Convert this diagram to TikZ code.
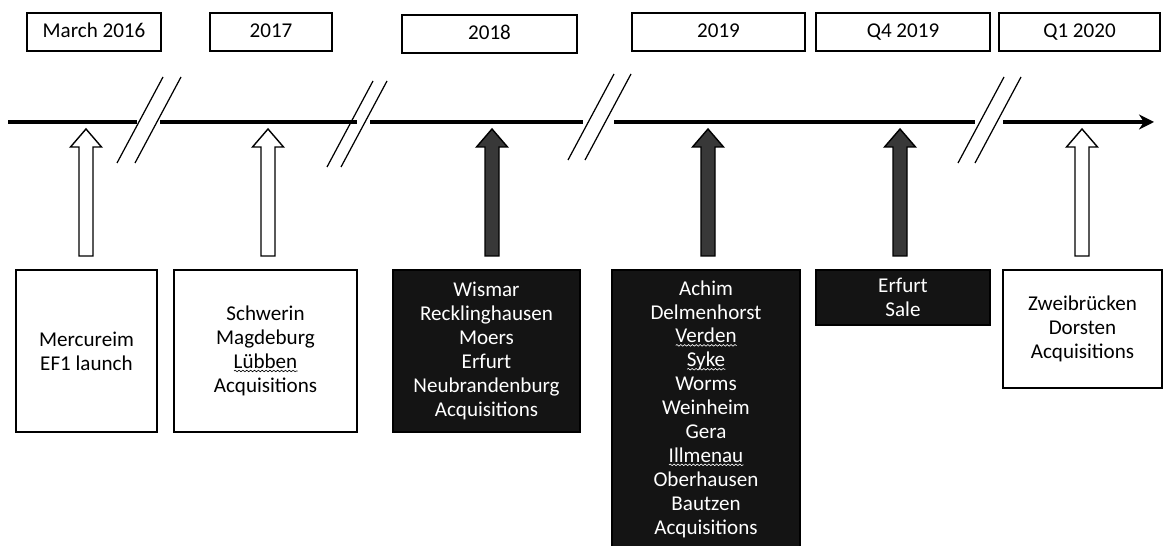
\documentclass[tikz,border=0pt]{standalone}
\usepackage{fontspec}
\setmainfont{Carlito}
\usetikzlibrary{arrows.meta, decorations.pathmorphing}

\tikzset{
    datebox/.style={draw, line width=0.8pt, minimum height=0.76cm, inner sep=2pt,
        text height=8.6pt, text depth=2.6pt},
    eventbox/.style={draw, line width=0.8pt, align=center, inner sep=2pt},
    darkbox/.style={eventbox, fill=black!92, text=white},
    timeline/.style={line width=2.6pt},
    breakline/.style={line width=0.7pt},
    openarrow/.style={draw, line width=0.8pt, fill=white},
    darkarrow/.style={draw, line width=0.8pt, fill=black!78},
    squiggle/.style={decorate, decoration={snake, amplitude=0.45pt, segment length=2.2pt}, line width=0.35pt},
}

% wavy underline as in the spell checker
\newlength\wavylen
\newcommand\wavy[1]{\settowidth\wavylen{#1}%
    \rlap{\raisebox{-2pt}[0pt][0pt]{\tikz\draw[squiggle] (0pt,0pt) -- (\wavylen,0pt);}}#1}

\begin{document}
\begin{tikzpicture}[x=0.02cm, y=-0.02cm, font=\fontsize{12}{13.6}\selectfont]
    \useasboundingbox (0,0) rectangle (1163,546);

    % Dates on top
    \node[datebox, minimum width=2.68cm] (d1) at (94,32) {March 2016};
    \node[datebox, minimum width=2.44cm] (d2) at (271,32) {2017};
    \node[datebox, minimum width=3.50cm] (d3) at (489.5,34) {2018};
    \node[datebox, minimum width=3.46cm] (d4) at (718.5,32) {2019};
    \node[datebox, minimum width=3.48cm] (d5) at (903,32) {Q4 2019};
    \node[datebox, minimum width=3.22cm] (d6) at (1079.5,32) {Q1 2020};

    % Timeline, broken in four places
    \draw[timeline] (8,122) -- (137,122);
    \draw[timeline] (160,122) -- (357,122);
    \draw[timeline] (370,122) -- (583,122);
    \draw[timeline] (614,122) -- (975,122);
    \draw[timeline, -{Stealth[length=3mm, width=3mm]}] (1003,122) -- (1154,122);

    % Break marks
    \foreach \X/\Y/\G in {117/163/18, 327/167/14, 568/160/17, 958/163/17} {
        \draw[breakline] (\X,\Y) -- ++(46,-86);
        \draw[breakline] (\X+\G,\Y) -- ++(46,-86);
    }

    % Arrows up to the timeline
    \foreach \X/\S in {86/openarrow, 268/openarrow, 492/darkarrow, 708/darkarrow, 900/darkarrow, 1082/openarrow} {
        \draw[\S] (\X-7,256) -- (\X-7,147) -- (\X-15.5,147) -- (\X,129)
            -- (\X+15.5,147) -- (\X+7,147) -- (\X+7,256) -- cycle;
    }

    % Events below
    \node[eventbox, minimum width=2.82cm, minimum height=3.24cm] (e1) at (86.5,351)
        {Mercureim\\EF1 launch};
    \node[eventbox, minimum width=3.66cm, minimum height=3.24cm] (e2) at (265.5,351)
        {Schwerin\\Magdeburg\\\wavy{Lübben}\\Acquisitions};
    \node[darkbox, minimum width=3.74cm, minimum height=3.24cm] (e3) at (486.5,351)
        {Wismar\\Recklinghausen\\Moers\\Erfurt\\Neubrandenburg\\Acquisitions};
    \node[darkbox, minimum width=3.76cm, minimum height=5.56cm] (e4) at (706,409)
        {Achim\\Delmenhorst\\\wavy{Verden}\\\wavy{Syke}\\Worms\\Weinheim\\Gera\\\wavy{Illmenau}\\Oberhausen\\Bautzen\\Acquisitions};
    \node[darkbox, minimum width=3.48cm, minimum height=1.1cm] (e5) at (903,297.5)
        {Erfurt\\Sale};
    \node[eventbox, minimum width=3.18cm, minimum height=2.36cm] (e6) at (1082.5,329)
        {Zweibrücken\\Dorsten\\Acquisitions};
\end{tikzpicture}
\end{document}
